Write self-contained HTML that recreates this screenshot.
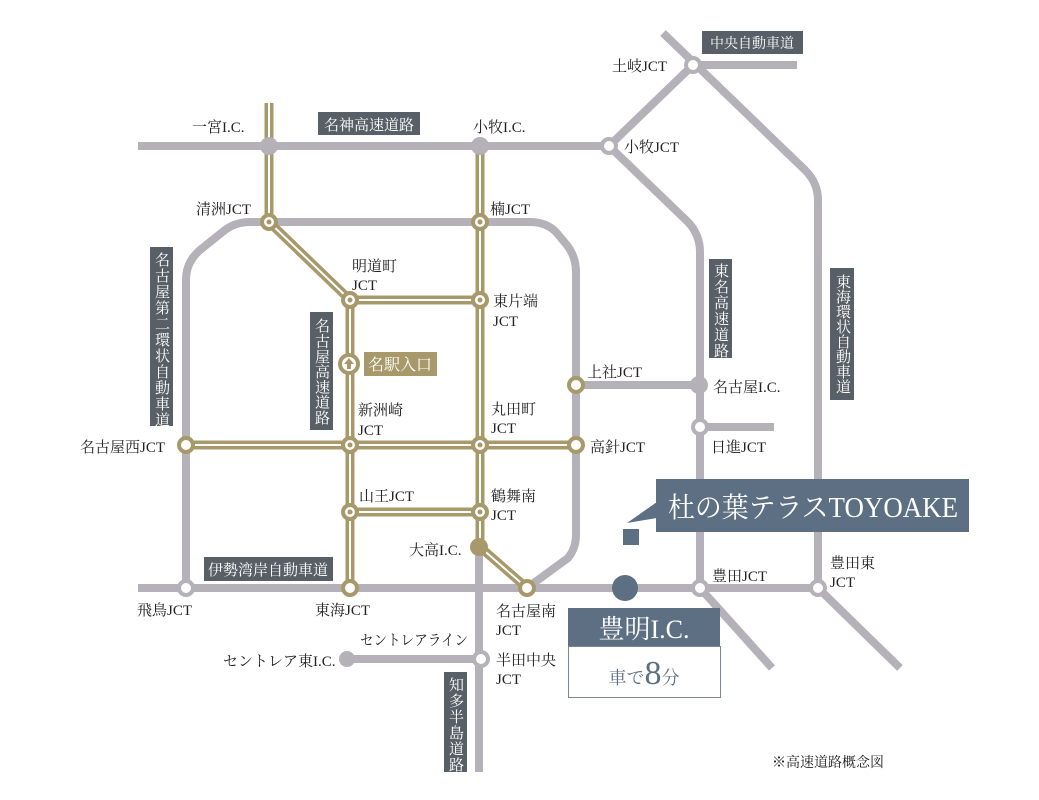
<!DOCTYPE html>
<html><head><meta charset="utf-8"><style>
html,body{margin:0;padding:0;background:#fff;}
svg{display:block}
text{font-family:"Liberation Serif","Noto Serif CJK SC",serif;fill:#222;}
.v{fill:#fff;writing-mode:tb;font-size:15px;}
</style></head><body>
<svg width="1039" height="800" viewBox="0 0 1039 800" xmlns="http://www.w3.org/2000/svg">
<g fill="none" stroke="#b4b1b8" stroke-width="8" stroke-linejoin="round">
<path d="M138 146 H609"/>
<path d="M663 33 L805 170 Q818 183 818 200 V588 L900 668"/>
<path d="M693 65 H797"/>
<path d="M693 65 L609 146 L688 222 Q700 235 700 252 V588 L772 668"/>
<path d="M576 385 H699"/>
<path d="M700 427 H774"/>
<path d="M186 588 V280 Q186 262 200 250 L225 230 Q236 222 250 222 H530 Q546 222 556 232 L566 244 Q576 256 576 272 V535 Q576 548 568 558 L527 588"/>
<path d="M138 588 H818"/>
<path d="M479 547 V772"/>
<path d="M347 659 H481"/>
</g>
<g fill="none" stroke="#a8996b" stroke-width="9" stroke-linejoin="round">
<path d="M269 103 V222 L350 300 V588"/>
<path d="M350 300 H480"/>
<path d="M480 146 V547 L527 588"/>
<path d="M186 445 H576"/>
<path d="M350 512 H480"/>
</g>
<g fill="none" stroke="#fff" stroke-width="2" stroke-linejoin="round">
<path d="M269 103 V222 L350 300 V588"/>
<path d="M350 300 H480"/>
<path d="M480 146 V547 L527 588"/>
<path d="M186 445 H576"/>
<path d="M350 512 H480"/>
</g>
<g fill="#fff" stroke="#b4b1b8" stroke-width="4">
<circle cx="693" cy="65" r="7"/>
<circle cx="609" cy="146" r="7"/>
<circle cx="700" cy="427" r="7"/>
<circle cx="700" cy="588" r="7"/>
<circle cx="818" cy="588" r="7"/>
<circle cx="186" cy="588" r="7"/>
<circle cx="481" cy="659" r="7"/>
</g>
<g fill="#b4b1b8">
<circle cx="269" cy="146" r="9"/>
<circle cx="480" cy="146" r="9"/>
<circle cx="699" cy="385" r="9"/>
<circle cx="347" cy="659" r="8"/>
</g>
<g fill="#fff" stroke="#a8996b" stroke-width="4">
<circle cx="269" cy="222" r="7"/>
<circle cx="480" cy="222" r="7"/>
<circle cx="350" cy="300" r="7"/>
<circle cx="480" cy="300" r="7"/>
<circle cx="350" cy="445" r="7"/>
<circle cx="480" cy="445" r="7"/>
<circle cx="186" cy="445" r="7"/>
<circle cx="576" cy="445" r="7"/>
<circle cx="576" cy="385" r="7"/>
<circle cx="350" cy="512" r="7"/>
<circle cx="480" cy="512" r="7"/>
<circle cx="350" cy="588" r="7"/>
<circle cx="527" cy="588" r="7"/>
<circle cx="349" cy="364" r="9"/>
</g>
<g fill="#a8996b">
<circle cx="269" cy="222" r="2.5"/><circle cx="480" cy="222" r="2.5"/>
<circle cx="350" cy="300" r="2.5"/><circle cx="480" cy="300" r="2.5"/>
<circle cx="350" cy="445" r="2.5"/><circle cx="480" cy="445" r="2.5"/>
<circle cx="350" cy="512" r="2.5"/><circle cx="480" cy="512" r="2.5"/>
<circle cx="479" cy="547" r="9"/>
<path d="M349 358 L344 364 H347 V369 H351 V364 H354 Z"/>
</g>
<g fill="#585f66">
<rect x="318" y="112" width="102" height="23"/>
<rect x="702" y="31" width="101" height="23"/>
<rect x="150" y="247" width="23" height="179"/>
<rect x="310" y="312" width="23" height="118"/>
<rect x="709" y="259" width="23" height="99"/>
<rect x="830" y="268" width="24" height="132"/>
<rect x="204" y="557" width="129" height="24"/>
<rect x="444" y="672" width="23" height="100"/>
</g>
<rect x="364" y="352" width="73" height="24" fill="#a8996b"/>
<text x="369" y="130" font-size="15" style="fill:#fff" text-anchor="middle">名神高速道路</text>
<text x="752" y="48" font-size="14" style="fill:#fff" text-anchor="middle">中央自動車道</text>
<text x="400" y="370" font-size="16" style="fill:#fff" text-anchor="middle">名駅入口</text>
<text x="268" y="575" font-size="15" style="fill:#fff" text-anchor="middle">伊勢湾岸自動車道</text>
<text class="v" x="161" y="252" style="letter-spacing:1px">名古屋第二環状自動車道</text>
<text class="v" x="321" y="318" style="letter-spacing:0.3px">名古屋高速道路</text>
<text class="v" x="720" y="263" style="letter-spacing:1px">東名高速道路</text>
<text class="v" x="842" y="274" style="letter-spacing:0px">東海環状自動車道</text>
<text class="v" x="455" y="677" style="letter-spacing:1px">知多半島道路</text>
<g font-size="15">
<text x="192" y="132">一宮I.C.</text>
<text x="473" y="132">小牧I.C.</text>
<text x="612" y="71">土岐JCT</text>
<text x="624" y="152">小牧JCT</text>
<text x="196" y="214">清洲JCT</text>
<text x="490" y="214">楠JCT</text>
<text x="352" y="271">明道町</text>
<text x="352" y="290">JCT</text>
<text x="493" y="306">東片端</text>
<text x="493" y="326">JCT</text>
<text x="587" y="377">上社JCT</text>
<text x="713" y="392">名古屋I.C.</text>
<text x="711" y="452">日進JCT</text>
<text x="358" y="415">新洲崎</text>
<text x="358" y="435">JCT</text>
<text x="491" y="414">丸田町</text>
<text x="491" y="433">JCT</text>
<text x="590" y="452">高針JCT</text>
<text x="80" y="452">名古屋西JCT</text>
<text x="359" y="501">山王JCT</text>
<text x="491" y="501">鶴舞南</text>
<text x="491" y="520">JCT</text>
<text x="409" y="555">大高I.C.</text>
<text x="137" y="615">飛鳥JCT</text>
<text x="315" y="615">東海JCT</text>
<text x="496" y="616">名古屋南</text>
<text x="496" y="635">JCT</text>
<text x="360" y="645" textLength="108" lengthAdjust="spacingAndGlyphs">セントレアライン</text>
<text x="223" y="666">セントレア東I.C.</text>
<text x="496" y="665">半田中央</text>
<text x="496" y="684">JCT</text>
<text x="712" y="581">豊田JCT</text>
<text x="830" y="568">豊田東</text>
<text x="830" y="587">JCT</text>
<text x="772" y="767" font-size="14">※高速道路概念図</text>
</g>
<rect x="656" y="479" width="313" height="53" fill="#5d6f82"/>
<path d="M657 502 L627 523 L657 518 Z" fill="#5d6f82"/>
<rect x="623" y="529" width="16" height="16" fill="#5d6f82"/>
<text x="668" y="517" font-size="28" textLength="290" lengthAdjust="spacingAndGlyphs" style="fill:#fff">杜の葉テラスTOYOAKE</text>
<circle cx="625" cy="588" r="13" fill="#5d6f82"/>
<rect x="568" y="608" width="152" height="38" fill="#5d6f82"/>
<rect x="568.5" y="646.5" width="152" height="51" fill="#fff" stroke="#7c8794" stroke-width="1"/>
<text x="644" y="638" font-size="26" style="fill:#fff" text-anchor="middle">豊明I.C.</text>
<text x="644" y="684" text-anchor="middle" style="fill:#5d6f82"><tspan font-size="18" style="fill:#5d6f82">車で</tspan><tspan font-size="34" style="fill:#5d6f82">8</tspan><tspan font-size="18" style="fill:#5d6f82">分</tspan></text>
</svg>
</body></html>
